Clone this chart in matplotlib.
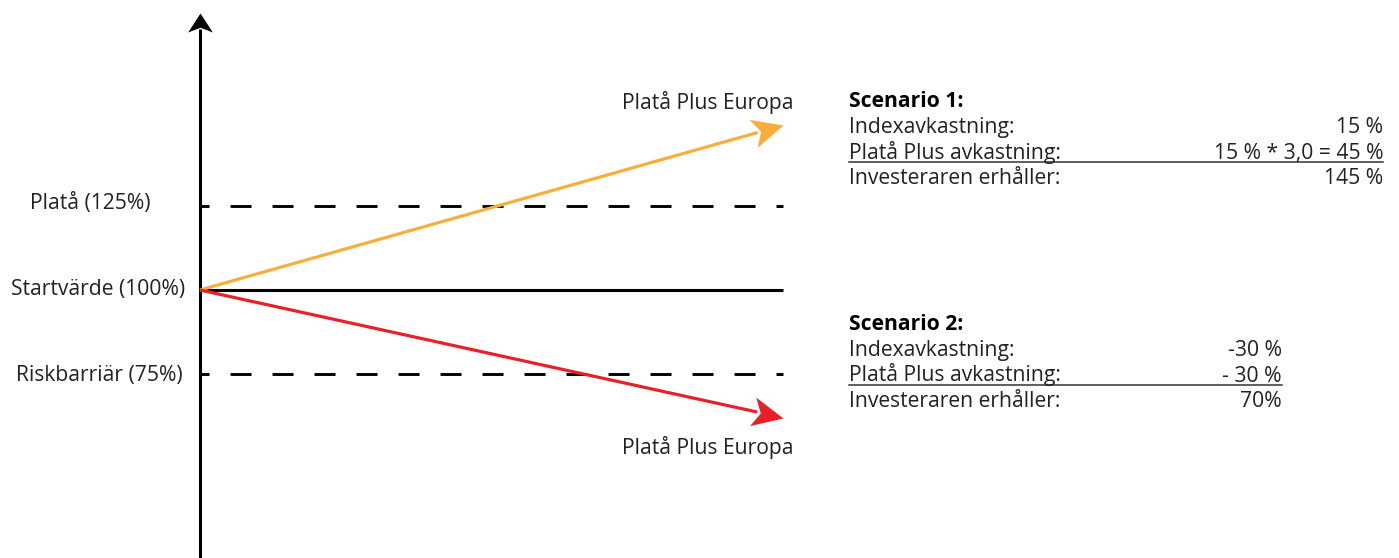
import numpy as np
import matplotlib.pyplot as plt
from matplotlib.lines import Line2D
from matplotlib.path import Path
from matplotlib.markers import MarkerStyle
from matplotlib.transforms import Affine2D

# levels (percent of start value)
start_level = 100
plateau_level = 125
barrier_level = 75
level_labels = ["Platå (125%)", "Startvärde (100%)", "Riskbarriär (75%)"]

# schematic paths: start -> end
time = [0, 1]
up_path = [100, 149]
down_path = [100, 62]
path_label = "Platå Plus Europa"

scen1_rows = ["Indexavkastning:", "Platå Plus avkastning:", "Investeraren erhåller:"]
scen1_vals = ["15 %", "15 % * 3,0 = 45 %", "145 %"]
scen2_rows = ["Indexavkastning:", "Platå Plus avkastning:", "Investeraren erhåller:"]
scen2_vals = ["-30 %", "- 30 %", "70%"]

orange = "#F9AE3B"
red = "#E8202A"

plt.rcParams['font.family'] = ['Open Sans', 'DejaVu Sans']

W, H = 1399, 558
fig = plt.figure(figsize=(W / 100, H / 100), dpi=100)
ax = fig.add_axes([0, 0, 1, 1])
ax.axis('off')
# 100% at 290 px from top, 25% = 84 px; x: 0 at 200 px, 1 at 783 px
ppu = 84 / 25
ax.set_ylim(100 - (H - 290) / ppu, 100 + 290 / ppu)
ax.set_xlim(-200 / 583, (W - 200) / 583)


def ypx(px):
    # pixel row (from top) -> data y, for label placement
    return 100 + (290 - px) / ppu


def stealth(half_w, notch):
    # arrow head pointing to +x, tip at origin
    verts = [(0, 0), (-1, half_w), (-notch, 0), (-1, -half_w), (0, 0)]
    codes = [Path.MOVETO, Path.LINETO, Path.LINETO, Path.LINETO, Path.CLOSEPOLY]
    return Path(verts, codes)


def arrow(p0, p1, color, lw, head_px, half_w, notch):
    d0 = ax.transData.transform(p0)
    d1 = ax.transData.transform(p1)
    ang = np.arctan2(d1[1] - d0[1], d1[0] - d0[0])
    u = np.array([np.cos(ang), np.sin(ang)])
    dend = d1 - u * head_px * (notch + 0.1)
    end = ax.transData.inverted().transform(dend)
    ax.plot([p0[0], end[0]], [p0[1], end[1]], color=color, lw=lw,
            solid_capstyle='butt', zorder=3)
    m = MarkerStyle(stealth(half_w, notch), transform=Affine2D().rotate(ang))
    ms = 2 * head_px * 72 / 100
    ax.plot([p1[0]], [p1[1]], marker=m, markersize=ms, color=color,
            markeredgewidth=0, zorder=4)


# y axis with arrow
y_bottom = ax.get_ylim()[0]
arrow((0, y_bottom), (0, ypx(13)), 'black', 2.2, 19, 0.65, 0.75)

# level lines
ax.plot([0, 1], [start_level] * 2, color='black', lw=2.2, solid_capstyle='butt', zorder=2)
for lvl in [plateau_level, barrier_level]:
    ax.plot([0, 1], [lvl] * 2, color='black', lw=2.1,
            linestyle=(4.1, (7.2, 7.2)), zorder=2)

# paths
arrow((time[0], up_path[0]), (time[1], up_path[1]), orange, 2.3, 31, 0.47, 0.75)
arrow((time[0], down_path[0]), (time[1], down_path[1]), red, 2.3, 31, 0.47, 0.75)

fs = 15.2
tc = '#222222'
ax.text(-50 / 583, ypx(208.5), level_labels[0], ha='right', va='baseline', fontsize=fs, color=tc)
ax.text(-15 / 583, ypx(295), level_labels[1], ha='right', va='baseline', fontsize=fs, color=tc)
ax.text(-17 / 583, ypx(380.5), level_labels[2], ha='right', va='baseline', fontsize=fs, color=tc)

ax.text(508 / 583, ypx(108.5), path_label, ha='center', va='baseline', fontsize=fs, color=tc)
ax.text(508 / 583, ypx(454), path_label, ha='center', va='baseline', fontsize=fs, color=tc)


def scenario(title, rows, vals, top_px, right_px):
    x0 = 849 / W
    x1 = right_px / W
    fig.text(x0, 1 - top_px / H, title, ha='left', va='baseline', fontsize=fs,
             fontweight='bold', color='black')
    for i, (r, v) in enumerate(zip(rows, vals)):
        y = 1 - (top_px + 26 + 25.5 * i) / H
        fig.text(x0, y, r, ha='left', va='baseline', fontsize=fs, color=tc)
        fig.text(x1, y, v, ha='right', va='baseline', fontsize=fs, color=tc)
    yl = 1 - (top_px + 54.5) / H
    fig.add_artist(Line2D([x0, x1], [yl, yl], color='#333333', lw=1.1))


scenario("Scenario 1:", scen1_rows, scen1_vals, 107, 1383)
scenario("Scenario 2:", scen2_rows, scen2_vals, 330, 1282)

fig.savefig("out.png", dpi=100)
